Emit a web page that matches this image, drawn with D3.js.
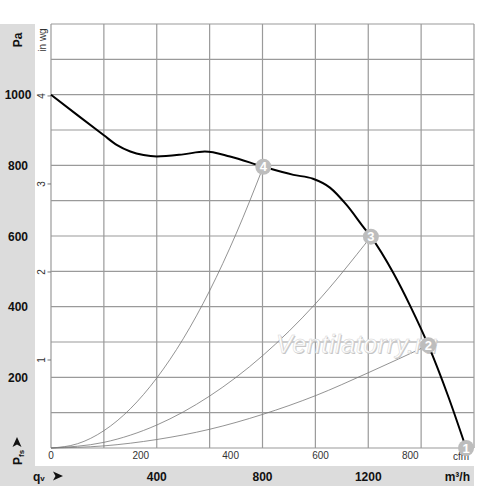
<!DOCTYPE html>
<html><head><meta charset="utf-8">
<script src="https://cdn.jsdelivr.net/npm/d3@7"></script>
<style>body{margin:0;background:#fff}svg{display:block;font-family:"Liberation Sans",Arial,sans-serif}</style>
</head><body>
<svg id="c" width="500" height="488"></svg>
<script>
// Fan curve (m³/h, Pa)
const fanQ = [0, 100, 200, 250, 300, 350, 400, 500, 582, 677, 803, 917, 991, 1055, 1118, 1181, 1210, 1295, 1360, 1427, 1503, 1570];
const fanP = [1000, 942, 885, 857, 839, 829, 825, 831, 839, 825, 796, 773, 762, 737, 688, 626, 598, 495, 400, 291, 145, 0];
// System curves (m³/h, Pa)
const sys4Q = [0, 100, 200, 300, 400, 500, 600, 700, 803];
const sys4P = [0, 12, 49, 111, 198, 309, 445, 606, 796];
const sys3Q = [0, 200, 400, 600, 800, 1000, 1210];
const sys3P = [0, 16, 65, 147, 261, 408, 598];
const sys2Q = [0, 200, 400, 600, 800, 1000, 1200, 1427];
const sys2P = [0, 6, 24, 53, 95, 148, 213, 291];
// Operating points
const ptLabel = ["1", "2", "3", "4"];
const ptQ = [1570, 1427, 1210, 803];
const ptP = [0, 291, 598, 796];
// Ticks
const paTicks = [200, 400, 600, 800, 1000];
const m3hTicks = [400, 800, 1200];
const cfmTicks = [0, 200, 400, 600, 800];
const inwgTicks = [1, 2, 3, 4];
const gridQ = [0, 200, 400, 600, 800, 1000, 1200, 1400, 1600];
const gridP = [0,100,200,300,400,500,600,700,800,900,1000,1100,1200];

const svg = d3.select("#c");
const L = 51, R = 474, T = 24, B = 448;
const x = d3.scaleLinear().domain([0, 1600]).range([L, R]);
const y = d3.scaleLinear().domain([0, 1200]).range([B, T]);
const xc = d3.scaleLinear().domain([0, 1600 / 1.699]).range([L, R]);
const yw = d3.scaleLinear().domain([0, 1200 / 249.089]).range([B, T]);

// grey bands
svg.append("rect").attr("x", 0).attr("y", 24).attr("width", 35).attr("height", 462).attr("fill", "#dcdcdc");
svg.append("rect").attr("x", 0).attr("y", 466).attr("width", 474).attr("height", 20).attr("fill", "#dcdcdc");

// grid
const g = svg.append("g");
g.selectAll(".v").data(gridQ).join("line")
  .attr("x1", d => x(d)).attr("x2", d => x(d)).attr("y1", T).attr("y2", B)
  .attr("stroke", "#9a9a9a").attr("stroke-width", 1.2);
g.selectAll(".h").data(gridP).join("line")
  .attr("y1", d => y(d)).attr("y2", d => y(d)).attr("x1", L).attr("x2", R)
  .attr("stroke", "#9a9a9a").attr("stroke-width", 1.1);

// in wg ticks
svg.selectAll(".wt").data(inwgTicks).join("line")
  .attr("x1", 47.5).attr("x2", L).attr("y1", d => yw(d)).attr("y2", d => yw(d))
  .attr("stroke", "#777").attr("stroke-width", 1);
svg.selectAll(".wl").data(inwgTicks).join("text")
  .attr("transform", d => `translate(45,${yw(d)}) rotate(-90)`)
  .attr("text-anchor", "middle").attr("font-size", 10).attr("fill", "#333")
  .text(d => d);
svg.append("text").attr("transform", "translate(46,40) rotate(-90)")
  .attr("text-anchor", "middle").attr("font-size", 10).attr("fill", "#333").text("in wg");

// Pa labels
svg.selectAll(".pl").data(paTicks).join("text")
  .attr("x", 18).attr("y", d => y(d) + 4.5).attr("text-anchor", "middle")
  .attr("font-size", 12).attr("font-weight", "bold").attr("fill", "#111").text(d => d);
svg.append("text").attr("transform", "translate(22,40) rotate(-90)")
  .attr("text-anchor", "middle").attr("font-size", 12).attr("font-weight", "bold").attr("fill", "#111").text("Pa");

// cfm labels
svg.selectAll(".cl").data(cfmTicks).join("text")
  .attr("x", d => xc(d)).attr("y", 459).attr("text-anchor", "middle")
  .attr("font-size", 10).attr("fill", "#333").text(d => d);
svg.append("text").attr("x", 461).attr("y", 460).attr("text-anchor", "middle")
  .attr("font-size", 10).attr("fill", "#333").text("cfm");

// m3/h labels
svg.selectAll(".ml").data(m3hTicks).join("text")
  .attr("x", d => x(d)).attr("y", 481).attr("text-anchor", "middle")
  .attr("font-size", 12).attr("font-weight", "bold").attr("fill", "#111").text(d => d);
svg.append("text").attr("x", 470).attr("y", 481).attr("text-anchor", "end")
  .attr("font-size", 12).attr("font-weight", "bold").attr("fill", "#111").text("m³/h");

// Pfs label + arrow
const pfs = svg.append("text").attr("transform", "translate(22,465) rotate(-90)")
  .attr("font-size", 12).attr("font-weight", "bold").attr("fill", "#111");
pfs.append("tspan").text("P");
pfs.append("tspan").attr("font-size", 8).attr("dy", 2).text("fs");
svg.append("path").attr("d", "M17,437 L12.5,447 L17,444.5 L21.5,447 Z").attr("fill", "#111");
// qv label + arrow
const qv = svg.append("text").attr("x", 33).attr("y", 481)
  .attr("font-size", 12).attr("font-weight", "bold").attr("fill", "#111");
qv.append("tspan").text("q");
qv.append("tspan").attr("font-size", 8).text("v");
svg.append("path").attr("d", "M63,476 L53,471.5 L55.5,476 L53,480.5 Z").attr("fill", "#111");

// system curves
const line = d3.line().x(d => x(d[0])).y(d => y(d[1])).curve(d3.curveMonotoneX);
[[sys4Q, sys4P], [sys3Q, sys3P], [sys2Q, sys2P]].forEach(([q, p]) => {
  svg.append("path").datum(q.map((v, i) => [v, p[i]])).attr("d", line)
    .attr("fill", "none").attr("stroke", "#777").attr("stroke-width", 0.8);
});

// watermark (embossed)
svg.append("text").attr("x", 277).attr("y", 354).attr("font-size", 25)
  .attr("font-style", "italic").attr("letter-spacing", 0.6).attr("fill", "#c4c4c4")
  .text("Ventilatorry.ru");
svg.append("text").attr("x", 276).attr("y", 353).attr("font-size", 25)
  .attr("font-style", "italic").attr("letter-spacing", 0.6).attr("fill", "#fff")
  .attr("stroke", "#d4d4d4").attr("stroke-width", 0.5)
  .text("Ventilatorry.ru");

// fan curve
const fanLine = d3.line().x(d => x(d[0])).y(d => y(d[1])).curve(d3.curveMonotoneX);
svg.append("path").datum(fanQ.map((v, i) => [v, fanP[i]])).attr("d", fanLine)
  .attr("fill", "none").attr("stroke", "#000").attr("stroke-width", 2);

// points
const pts = svg.selectAll(".pt").data(ptLabel.map((l, i) => ({ l, q: ptQ[i], p: ptP[i] }))).join("g")
  .attr("transform", d => `translate(${x(d.q)},${y(d.p)})`);
pts.append("circle").attr("r", 8).attr("fill", "#bdbdbd");
pts.append("text").attr("text-anchor", "middle").attr("y", 4.5).attr("font-size", 13)
  .attr("font-weight", "bold").attr("fill", "#fff").text(d => d.l);
</script>
</body></html>
